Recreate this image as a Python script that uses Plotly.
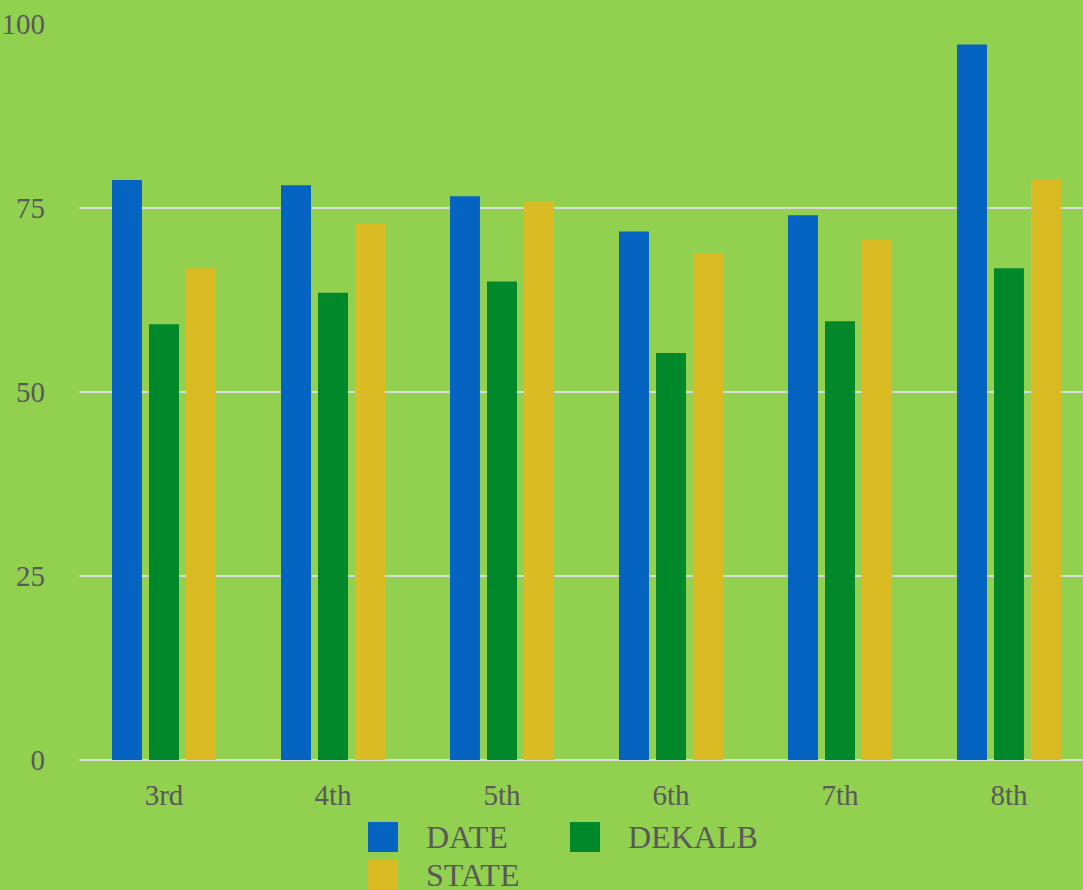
import plotly.graph_objects as go

grades = ["3rd", "4th", "5th", "6th", "7th", "8th"]
date_vals = [78.8, 78.1, 76.6, 71.8, 74.0, 97.2]
dekalb_vals = [59.2, 63.5, 65.0, 55.3, 59.6, 66.8]
state_vals = [66.8, 72.9, 75.9, 68.9, 70.7, 78.8]
series_names = ["DATE", "DEKALB", "STATE"]
series_colors = ["#0563C1", "#00882B", "#DBBB23"]
y_ticks = [0, 25, 50, 75, 100]

BG = "#92D050"
TXT = "#595959"
FONT = "Liberation Serif"

fig = go.Figure()
for name, vals, col in zip(series_names, [date_vals, dekalb_vals, state_vals], series_colors):
    fig.add_trace(go.Bar(x=grades, y=vals, name=name, marker=dict(color=col, line=dict(width=0)),
                         showlegend=False))

W, H = 1083, 890
L, R, T, B = 79, 0, 24, 130
pw, ph = W - L - R, H - T - B

def px2paper(x, y):
    return (x - L) / pw, (H - B - y) / ph

# manual legend (large square swatches like the original)
legend_pos = [(368, 822), (570, 822), (368, 860)]
shapes = []
annotations = []
for (sx, sy), name, col in zip(legend_pos, series_names, series_colors):
    x0, y1 = px2paper(sx, sy)
    x1, y0 = px2paper(sx + 30, sy + 30)
    shapes.append(dict(type="rect", xref="paper", yref="paper", x0=x0, x1=x1, y0=y0, y1=y1,
                       fillcolor=col, line=dict(width=0), layer="above"))
    tx, ty = px2paper(sx + 56, sy + 15)
    annotations.append(dict(xref="paper", yref="paper", x=tx, y=ty, xanchor="left", yanchor="middle",
                            text=name, showarrow=False, font=dict(family=FONT, size=32, color=TXT)))

fig.update_layout(
    width=W, height=H,
    margin=dict(l=L, r=R, t=T, b=B, pad=0),
    paper_bgcolor=BG, plot_bgcolor=BG,
    barmode="group", bargap=0.343, bargroupgap=0.19,
    font=dict(family=FONT, size=29, color=TXT),
    shapes=shapes, annotations=annotations,
    xaxis=dict(showgrid=False, showline=False, zeroline=False, ticks="", range=[-0.503, 5.438],
               tickfont=dict(family=FONT, size=29, color=TXT), ticklabelstandoff=15),
    yaxis=dict(range=[0, 100], tickvals=y_ticks, showgrid=True, gridcolor="#D9D9D9", gridwidth=2,
               zeroline=True, zerolinecolor="#D9D9D9", zerolinewidth=2, showline=False, ticks="",
               tickfont=dict(family=FONT, size=29, color=TXT), ticklabelstandoff=33),
)

fig.write_html("out.html")
